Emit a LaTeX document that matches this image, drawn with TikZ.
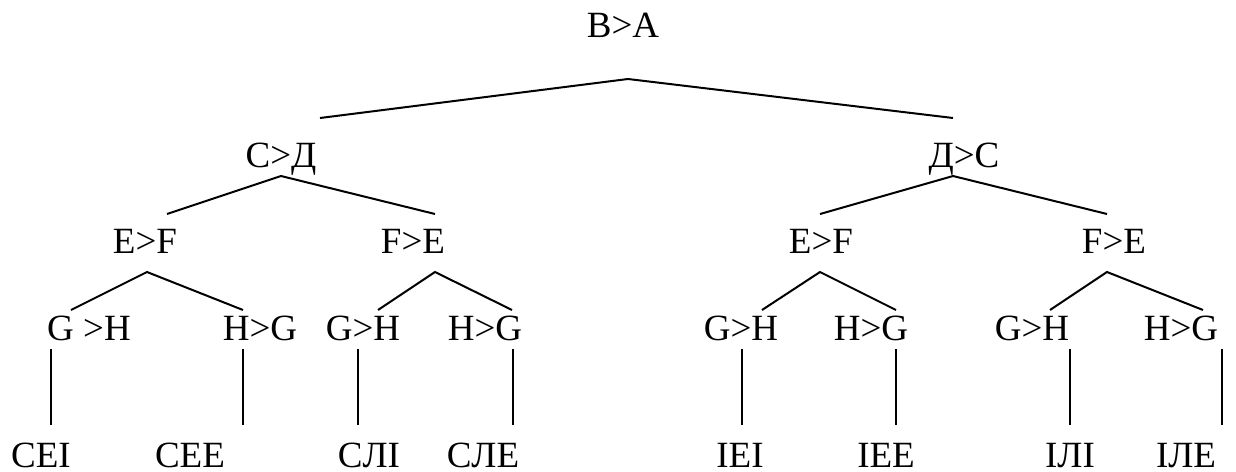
\documentclass[tikz,border=0pt]{standalone}
\usepackage{fontspec}
\setmainfont{Liberation Serif}
\begin{document}
\begin{tikzpicture}[x=1pt,y=-1pt,
  lbl/.style={anchor=base,inner sep=0pt,font=\fontsize{37}{40}\selectfont},
  edge/.style={line width=2pt,line cap=butt,line join=miter}]
\useasboundingbox (0,0) rectangle (1236,471);
% labels
\node[lbl] (r) at (623,37) {B>A};
\node[lbl] (l1) at (281,167) {C>Д};
\node[lbl] (r1) at (964,167) {Д>C};
\node[lbl] (l1a) at (145,253) {E>F};
\node[lbl] (l1b) at (413,253) {F>E};
\node[lbl] (r1a) at (821,253) {E>F};
\node[lbl] (r1b) at (1114,253) {F>E};
\node[lbl] (g1) at (89,340) {G >H};
\node[lbl] (g2) at (260,340) {H>G};
\node[lbl] (g3) at (363,340) {G>H};
\node[lbl] (g4) at (485,340) {H>G};
\node[lbl] (g5) at (741,340) {G>H};
\node[lbl] (g6) at (871,340) {H>G};
\node[lbl] (g7) at (1032,340) {G>H};
\node[lbl] (g8) at (1181,340) {H>G};
\node[lbl] (b1) at (41,467) {CEI};
\node[lbl] (b2) at (190,467) {CEE};
\node[lbl] (b3) at (369,467) {CЛI};
\node[lbl] (b4) at (483,467) {CЛE};
\node[lbl] (b5) at (740,467) {IEI};
\node[lbl] (b6) at (886,467) {IEE};
\node[lbl] (b7) at (1070,467) {IЛI};
\node[lbl] (b8) at (1186,467) {IЛE};
% connector points
\coordinate (pr) at (628,79);
\coordinate (pl1) at (320,118);
\coordinate (pr1) at (953,118);
\coordinate (ql1) at (281,176);
\coordinate (ql1a) at (167,214);
\coordinate (ql1b) at (435,214);
\coordinate (qr1) at (953,176);
\coordinate (qr1a) at (820,214);
\coordinate (qr1b) at (1107,214);
\coordinate (sa) at (147,272);
\coordinate (sa1) at (71,310);
\coordinate (sa2) at (243,310);
\coordinate (sb) at (435,272);
\coordinate (sb1) at (378,310);
\coordinate (sb2) at (512,310);
\coordinate (sc) at (820,272);
\coordinate (sc1) at (762,310);
\coordinate (sc2) at (896,310);
\coordinate (sd) at (1107,272);
\coordinate (sd1) at (1050,310);
\coordinate (sd2) at (1203,310);
\foreach \i/\x in {1/51,2/243,3/358,4/513,5/742,6/896,7/1070,8/1222}{
  \coordinate (vt\i) at (\x,349);
  \coordinate (vb\i) at (\x,425);
}
% connectors
\draw[edge] (pl1) -- (pr) -- (pr1);
\draw[edge] (ql1a) -- (ql1) -- (ql1b);
\draw[edge] (qr1a) -- (qr1) -- (qr1b);
\draw[edge] (sa1) -- (sa) -- (sa2);
\draw[edge] (sb1) -- (sb) -- (sb2);
\draw[edge] (sc1) -- (sc) -- (sc2);
\draw[edge] (sd1) -- (sd) -- (sd2);
\foreach \i in {1,...,8}{\draw[edge] (vt\i) -- (vb\i);}
\end{tikzpicture}
\end{document}
